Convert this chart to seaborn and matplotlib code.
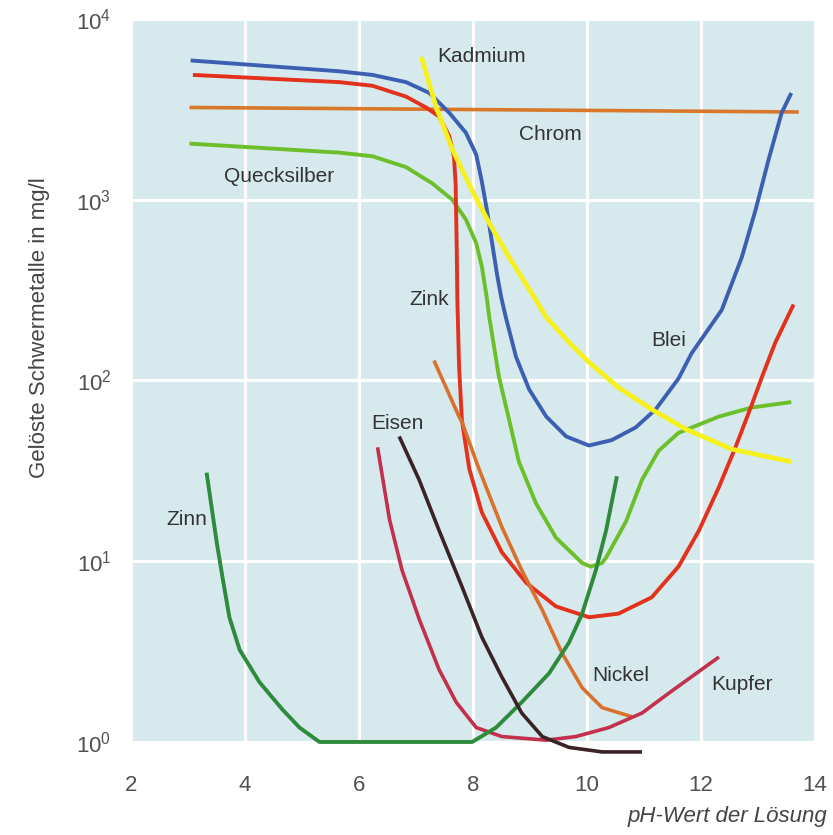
import numpy as np
import pandas as pd
import matplotlib
matplotlib.use("Agg")
import matplotlib.pyplot as plt
import matplotlib.ticker as mticker
import seaborn as sns

# ---------------- data (pH, log10 concentration in mg/l) ----------------
blei_x = [3.05, 5.66, 6.24, 6.83, 7.24, 7.59, 7.88, 8.06, 8.16, 8.25, 8.34, 8.43, 8.50, 8.58, 8.76, 8.99, 9.29, 9.64, 10.04, 10.44, 10.86, 11.21, 11.61, 11.84, 12.37, 12.72, 12.96, 13.19, 13.42, 13.59]
blei_y = [3.77, 3.71, 3.69, 3.65, 3.59, 3.48, 3.37, 3.25, 3.10, 2.94, 2.76, 2.58, 2.46, 2.35, 2.13, 1.95, 1.80, 1.69, 1.64, 1.67, 1.74, 1.84, 2.01, 2.15, 2.39, 2.68, 2.94, 3.22, 3.48, 3.59]

zink_x = [3.09, 5.66, 6.24, 6.83, 7.18, 7.41, 7.59, 7.67, 7.70, 7.71, 7.72, 7.73, 7.76, 7.81, 7.94, 8.16, 8.51, 8.94, 9.46, 10.04, 10.56, 11.14, 11.61, 11.97, 12.32, 12.61, 12.89, 13.10, 13.31, 13.63]
zink_y = [3.69, 3.65, 3.63, 3.57, 3.51, 3.46, 3.35, 3.24, 3.09, 2.90, 2.72, 2.45, 2.08, 1.78, 1.51, 1.27, 1.05, 0.88, 0.75, 0.69, 0.71, 0.80, 0.97, 1.17, 1.41, 1.63, 1.86, 2.04, 2.21, 2.42]

chrom_x = [3.03, 13.72]
chrom_y = [3.51, 3.485]

quecksilber_x = [3.03, 5.66, 6.24, 6.83, 7.29, 7.64, 7.88, 8.06, 8.16, 8.25, 8.29, 8.46, 8.64, 8.81, 9.11, 9.46, 9.92, 10.07, 10.27, 10.34, 10.69, 10.97, 11.26, 11.61, 12.32, 12.89, 13.59]
quecksilber_y = [3.31, 3.26, 3.24, 3.18, 3.09, 3.00, 2.89, 2.76, 2.63, 2.45, 2.35, 2.02, 1.78, 1.55, 1.32, 1.13, 0.99, 0.97, 0.99, 1.02, 1.22, 1.45, 1.61, 1.71, 1.80, 1.85, 1.88]

kadmium_x = [7.10, 7.36, 7.64, 7.99, 8.29, 8.64, 9.04, 9.29, 9.69, 10.04, 10.56, 11.14, 11.74, 12.54, 13.59]
kadmium_y = [3.79, 3.51, 3.28, 3.05, 2.87, 2.68, 2.48, 2.35, 2.21, 2.10, 1.96, 1.84, 1.73, 1.62, 1.55]

nickel_x = [7.32, 7.76, 7.81, 8.11, 8.51, 8.86, 9.22, 9.57, 9.92, 10.27, 10.79]
nickel_y = [2.11, 1.80, 1.77, 1.51, 1.19, 0.95, 0.73, 0.49, 0.30, 0.19, 0.14]

kupfer_x = [6.33, 6.54, 6.76, 7.06, 7.41, 7.71, 8.06, 8.51, 9.29, 9.81, 10.39, 10.97, 11.44, 12.32]
kupfer_y = [1.63, 1.23, 0.95, 0.68, 0.40, 0.22, 0.08, 0.03, 0.01, 0.03, 0.08, 0.16, 0.27, 0.47]

eisen_x = [6.71, 7.06, 7.41, 7.81, 8.16, 8.51, 8.86, 9.22, 9.69, 10.27, 10.97]
eisen_y = [1.69, 1.45, 1.17, 0.86, 0.58, 0.36, 0.16, 0.03, -0.03, -0.055, -0.055]

zinn_x = [3.33, 3.51, 3.61, 3.73, 3.91, 4.26, 4.66, 4.96, 5.31, 7.99, 8.41, 8.86, 9.34, 9.69, 9.92, 10.16, 10.34, 10.53]
zinn_y = [1.49, 1.10, 0.91, 0.69, 0.51, 0.33, 0.18, 0.08, 0.0, 0.0, 0.08, 0.22, 0.38, 0.55, 0.71, 0.95, 1.17, 1.47]

x_ticks = [2, 4, 6, 8, 10, 12, 14]
y_ticks = [1, 10, 100, 1000, 10000]

labels = ["Kadmium", "Chrom", "Quecksilber", "Zink", "Blei", "Eisen", "Zinn", "Nickel", "Kupfer"]
label_x = [8.16, 9.37, 4.61, 7.24, 11.44, 6.68, 2.98, 10.60, 12.72]
label_y = [3.79, 3.36, 3.13, 2.45, 2.22, 1.76, 1.23, 0.37, 0.32]

series = [
    ("Chrom", chrom_x, chrom_y, "#d9782a", 2.6),
    ("Quecksilber", quecksilber_x, quecksilber_y, "#6cbf2a", 2.8),
    ("Blei", blei_x, blei_y, "#3c5fb2", 2.8),
    ("Zink", zink_x, zink_y, "#e2321e", 2.8),
    ("Nickel", nickel_x, nickel_y, "#d8702e", 2.6),
    ("Kupfer", kupfer_x, kupfer_y, "#c2304c", 2.6),
    ("Zinn", zinn_x, zinn_y, "#2e8a3c", 2.8),
    ("Eisen", eisen_x, eisen_y, "#3b2224", 2.6),
    ("Kadmium", kadmium_x, kadmium_y, "#f6f01c", 3.4),
]

# ---------------- plot ----------------
sns.set_theme(style="white")
plt.rcParams['font.family'] = ['Liberation Sans', 'DejaVu Sans']
plt.rcParams['mathtext.fontset'] = 'custom'
plt.rcParams['mathtext.rm'] = 'Liberation Sans'
plt.rcParams['mathtext.it'] = 'Liberation Sans:italic'

fig = plt.figure(figsize=(8.33, 8.35), dpi=100)
fig.patch.set_facecolor("white")
ax = fig.add_axes([0.157, 0.1114, 0.821, 0.866])
ax.set_facecolor("#d6eaed")

for name, xs, ys, col, lw in series:
    df = pd.DataFrame({"pH": xs, "c": [10 ** v for v in ys]})
    sns.lineplot(data=df, x="pH", y="c", ax=ax, color=col, linewidth=lw,
                 sort=False, estimator=None, clip_on=False,
                 solid_capstyle="butt", solid_joinstyle="round")

ax.set_yscale("log")
ax.set_xlim(2, 14)
ax.set_ylim(1, 10000)
ax.set_xticks(x_ticks)
ax.set_yticks(y_ticks)
ax.yaxis.set_minor_locator(mticker.NullLocator())
ax.set_yticklabels([r"$\mathregular{10^{%d}}$" % int(np.log10(v)) for v in y_ticks])
ax.set_xticklabels([str(v) for v in x_ticks])
ax.tick_params(axis="both", length=0, labelsize=16, labelcolor="#505050")
ax.tick_params(axis="x", pad=24)
ax.tick_params(axis="y", pad=14)
ax.grid(True, which="major", color="white", linewidth=2.2)
ax.set_axisbelow(True)
for s in ax.spines.values():
    s.set_visible(False)
ax.set_xlabel("")
ax.set_ylabel("")

for t, lx, ly in zip(labels, label_x, label_y):
    ax.text(lx, 10 ** ly, t, ha="center", va="center", fontsize=15, color="#333333")

fig.text(0.048, 0.608, "Gelöste Schwermetalle in mg/l", rotation=90,
         ha="center", va="center", fontsize=16, color="#444444")
fig.text(0.993, 0.009, "pH-Wert der Lösung", ha="right", va="bottom",
         fontsize=16, style="italic", color="#444444")

fig.savefig("out.png", dpi=100, facecolor="white")
